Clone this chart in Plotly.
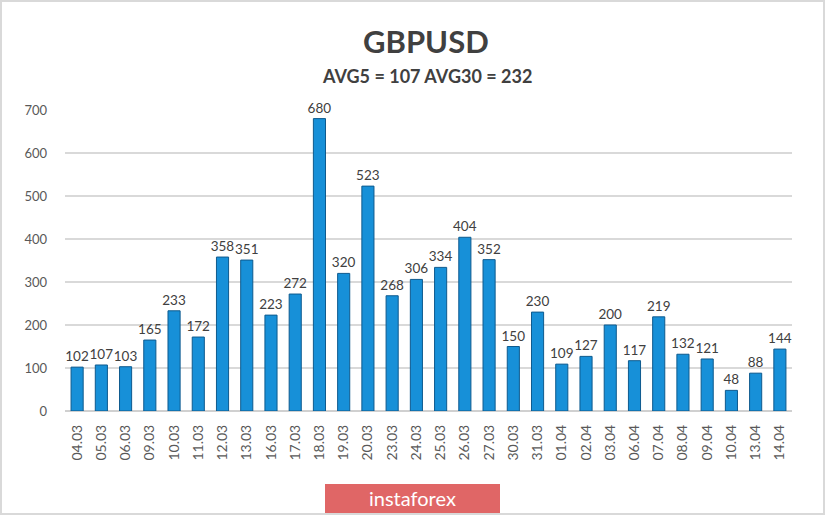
import plotly.graph_objects as go

categories = ["04.03","05.03","06.03","09.03","10.03","11.03","12.03","13.03","16.03","17.03",
              "18.03","19.03","20.03","23.03","24.03","25.03","26.03","27.03","30.03","31.03",
              "01.04","02.04","03.04","06.04","07.04","08.04","09.04","10.04","13.04","14.04"]
values = [102,107,103,165,233,172,358,351,223,272,
          680,320,523,268,306,334,404,352,150,230,
          109,127,200,117,219,132,121,48,88,144]
y_ticks = [0,100,200,300,400,500,600,700]
title_text = "GBPUSD"
subtitle_text = "AVG5 = 107 AVG30 = 232"

W, H = 825, 515
ml, mr, mt, mb = 65, 33, 110, 104
PW, PH = W - ml - mr, H - mt - mb


def px(x):
    return (x - ml) / PW


def py(y):
    return (H - mb - y) / PH


fig = go.Figure()
fig.add_trace(go.Bar(
    x=categories, y=values,
    marker=dict(color="#1790d8", line=dict(color="#0e5a8e", width=1)),
    width=0.5,
    text=[str(v) for v in values], textposition="outside", constraintext="none",
    textfont=dict(family="Lato", size=13.5, color="#404040"),
    cliponaxis=False,
))

fig.update_layout(
    width=W, height=H,
    margin=dict(l=ml, r=mr, t=mt, b=mb, autoexpand=False),
    paper_bgcolor="white", plot_bgcolor="white",
    showlegend=False,
    font=dict(family="Lato", color="#595959"),
    xaxis=dict(type="category", tickangle=-90, tickfont=dict(size=14, color="#595959"),
               showgrid=False, showline=False, ticks="", automargin=False,
               ticklabelstandoff=10),
    yaxis=dict(range=[0, 700], tickvals=y_ticks, tickfont=dict(size=13, color="#595959"),
               gridcolor="#d9d9d9", gridwidth=1.5, zeroline=True, zerolinecolor="#d0d0d0",
               zerolinewidth=2, showline=False, ticks="", ticklabelstandoff=17, automargin=False),
    annotations=[
        dict(text="<b>" + title_text + "</b>", x=px(426), y=py(41), xref="paper", yref="paper",
             xanchor="center", yanchor="middle", showarrow=False,
             font=dict(family="Lato", size=31, color="#404040")),
        dict(text="<b>" + subtitle_text + "</b>", x=px(427), y=py(76), xref="paper", yref="paper",
             xanchor="center", yanchor="middle", showarrow=False,
             font=dict(family="Lato", size=18, color="#404040")),
        dict(text="instaforex", x=px(412), y=py(498),
             xref="paper", yref="paper", xanchor="center", yanchor="middle", showarrow=False,
             font=dict(family="Lato", size=20, color="white")),
    ],
    shapes=[
        dict(type="rect", xref="paper", yref="paper",
             x0=px(325), x1=px(500), y0=py(513), y1=py(484),
             fillcolor="#e06666", line=dict(width=0), layer="above"),
        dict(type="rect", xref="paper", yref="paper",
             x0=px(1), x1=px(W - 1), y0=py(H - 1), y1=py(1),
             fillcolor="rgba(0,0,0,0)", line=dict(color="#d9d9d9", width=2), layer="below"),
    ],
)

fig.write_html("out.html", config={"displayModeBar": False},
               post_script="document.body.style.margin='0';document.body.style.overflow='hidden';")
